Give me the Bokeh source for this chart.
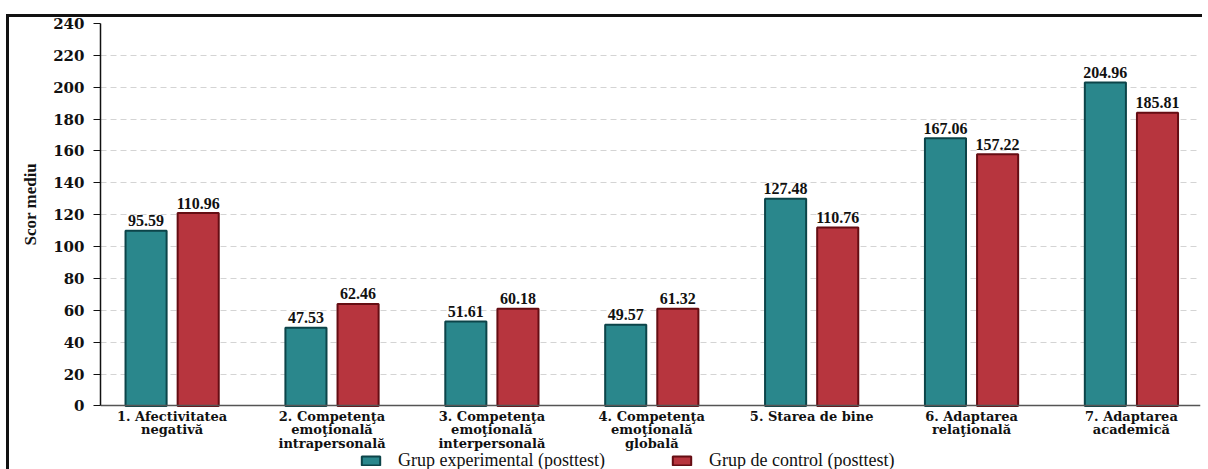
from bokeh.plotting import figure
from bokeh.models import ColumnDataSource, Legend, LegendItem, FixedTicker, Range1d, Title
from bokeh.embed import file_html
from bokeh.resources import INLINE

categories = [
    "1. Afectivitatea\nnegativă",
    "2. Competenţa\nemoţională\nintrapersonală",
    "3. Competenţa\nemoţională\ninterpersonală",
    "4. Competenţa\nemoţională\nglobală",
    "5. Starea de bine",
    "6. Adaptarea\nrelaţională",
    "7. Adaptarea\nacademică",
]
# bar heights as drawn in the picture
exp_bars = [110, 49, 53, 51, 130, 168, 203]
ctl_bars = [121, 64, 61, 61, 112, 158, 184]
# value labels printed above the bars
exp_labels = ["95.59", "47.53", "51.61", "49.57", "127.48", "167.06", "204.96"]
ctl_labels = ["110.96", "62.46", "60.18", "61.32", "110.76", "157.22", "185.81"]
y_ticks = list(range(0, 241, 20))

series_names = ["Grup experimental (posttest)", "Grup de control (posttest)"]
y_title = "Scor mediu"

TEAL = "#2a878c"
TEAL_EDGE = "#0c4449"
RED = "#b7353e"
RED_EDGE = "#650d13"

idx = list(range(len(categories)))
off = 0.163
bw = 0.257

src_e = ColumnDataSource(dict(x=[i - off for i in idx], top=exp_bars, lab=exp_labels))
src_c = ColumnDataSource(dict(x=[i + off for i in idx], top=ctl_bars, lab=ctl_labels))

# the frame reaches the bottom edge; the x axis sits at y = 0 inside it
p = figure(width=1196, height=461,
           x_range=Range1d(-0.448, 6.432), y_range=Range1d(-39.9, 240),
           output_backend="svg", toolbar_location=None,
           min_border_left=94, min_border_top=15, min_border_right=2, min_border_bottom=0)
# black frame lines (top and left) painted behind a transparent canvas border
p.styles = {"margin-top": "8px", "margin-left": "6px",
            "background": "linear-gradient(#111,#111) 0px 6px / 100% 3px no-repeat, "
                          "linear-gradient(#111,#111) 0px 6px / 3px 100% no-repeat, white"}
p.border_fill_alpha = 0
p.outline_line_color = None
p.background_fill_color = "white"

r_e = p.vbar(x="x", top="top", width=bw, source=src_e,
             fill_color=TEAL, line_color=TEAL_EDGE, line_width=2)
r_c = p.vbar(x="x", top="top", width=bw, source=src_c,
             fill_color=RED, line_color=RED_EDGE, line_width=2)

for s in (src_e, src_c):
    p.text(x="x", y="top", text="lab", source=s, y_offset=-10,
           text_align="center", text_baseline="alphabetic",
           text_font="DejaVu Serif", text_font_style="bold",
           text_font_size="16px", text_color="#111111")

# axes
p.xaxis.fixed_location = 0
p.xaxis.ticker = FixedTicker(ticks=idx)
p.xaxis.major_label_overrides = {i: c for i, c in zip(idx, categories)}
p.xaxis.major_label_text_font = "DejaVu Serif"
p.xaxis.major_label_text_font_style = "bold"
p.xaxis.major_label_text_font_size = "13px"
p.xaxis.major_label_text_line_height = 0.9
p.xaxis.major_label_text_color = "#111111"
p.xaxis.major_tick_out = 0
p.xaxis.major_tick_in = 0
p.xaxis.minor_tick_line_color = None
p.xaxis.major_label_standoff = 3
p.xaxis.axis_line_color = "#555555"
p.xaxis.axis_line_width = 1.5

p.yaxis.ticker = FixedTicker(ticks=y_ticks)
p.yaxis.bounds = (0, 240)
p.yaxis.major_label_text_font = "DejaVu Serif"
p.yaxis.major_label_text_font_style = "bold"
p.yaxis.major_label_text_font_size = "15px"
p.yaxis.major_label_text_color = "#111111"
p.yaxis.major_tick_out = 7
p.yaxis.major_tick_in = 0
p.yaxis.minor_tick_line_color = None
p.yaxis.major_label_standoff = 9
p.yaxis.axis_line_color = "#111111"
p.yaxis.axis_line_width = 1.5
p.yaxis.major_tick_line_color = "#111111"

# y-axis title, placed level with the 0-240 scale
p.add_layout(Title(text=y_title, align="left", offset=224, standoff=22,
                   text_font="Liberation Serif", text_font_style="bold",
                   text_font_size="17px", text_color="#111111"), "left")

p.xgrid.grid_line_color = None
p.ygrid.grid_line_color = "#d4d4d4"
p.ygrid.grid_line_dash = "6 4"
p.ygrid.grid_line_width = 1

legend = Legend(items=[LegendItem(label=series_names[0], renderers=[r_e]),
                       LegendItem(label=series_names[1], renderers=[r_c])],
                location=(259, -2), orientation="horizontal",
                label_text_font="Liberation Serif", label_text_font_size="18px",
                label_text_color="#111111",
                glyph_width=23, glyph_height=11, label_standoff=16, spacing=65,
                padding=0, margin=0, border_line_color=None,
                background_fill_alpha=0)
p.add_layout(legend)

open("out.html", "w").write(file_html(p, INLINE))
